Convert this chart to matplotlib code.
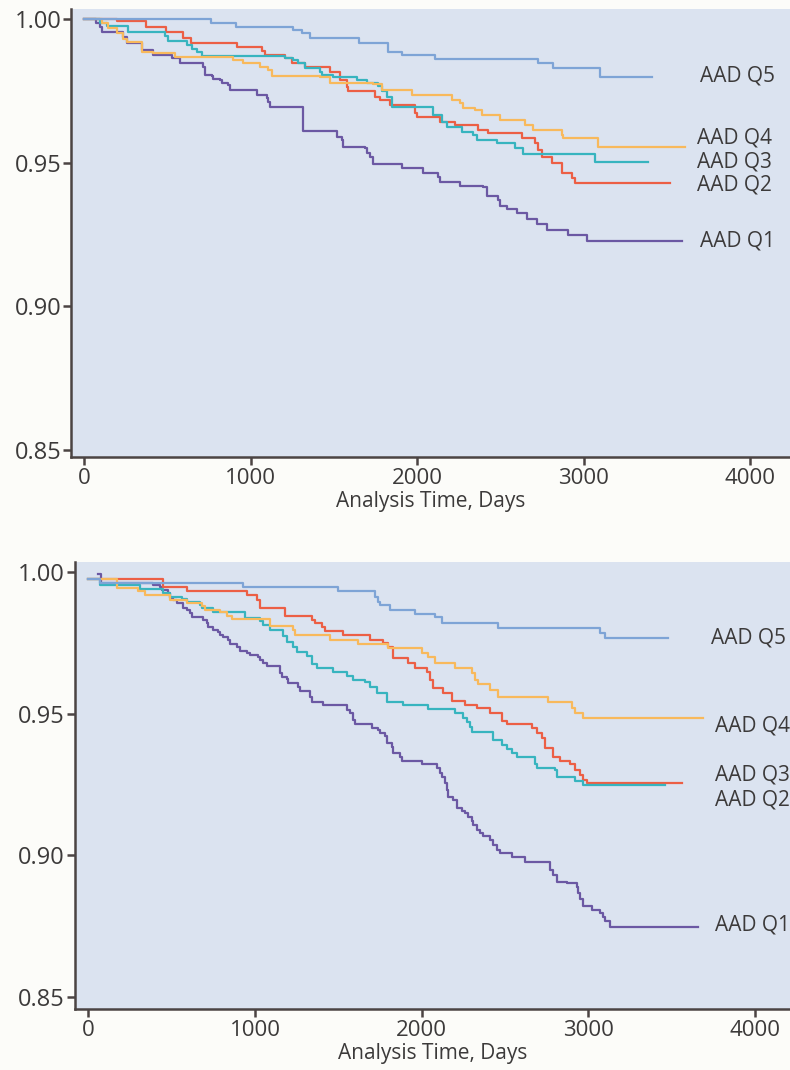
import matplotlib
matplotlib.use("Agg")
import matplotlib.pyplot as plt

plt.rcParams['font.family'] = ['Open Sans', 'DejaVu Sans']

# ---- top panel ----
top_q1_t = [0, 70, 96, 106, 236, 256, 347, 416, 527, 577, 717, 727, 767, 777, 817, 827, 867, 877, 1037, 1097,
            1107, 1117, 1317, 1518, 1548, 1557, 1688, 1698, 1718, 1738, 1908, 2038, 2128, 2138, 2258, 2398,
            2419, 2488, 2498, 2539, 2599, 2659, 2719, 2779, 2909, 3019, 3590]
top_q1_s = [1.0, 0.9987, 0.9973, 0.9956, 0.9938, 0.9915, 0.9892, 0.9875, 0.9863, 0.9848, 0.9834, 0.9805,
            0.9802, 0.9790, 0.9788, 0.9778, 0.9770, 0.9753, 0.9736, 0.9724, 0.9712, 0.9695, 0.9610, 0.9590,
            0.9579, 0.9554, 0.9550, 0.9533, 0.9521, 0.9494, 0.9480, 0.9465, 0.9451, 0.9434, 0.9419, 0.9414,
            0.9384, 0.9370, 0.9349, 0.9338, 0.9324, 0.9303, 0.9287, 0.9266, 0.9248, 0.9228, 0.9228]

top_q2_t = [0, 196, 371, 491, 593, 641, 917, 1067, 1087, 1207, 1247, 1327, 1477, 1538, 1578, 1587, 1748,
            1778, 1838, 1988, 1998, 2138, 2228, 2368, 2428, 2629, 2709, 2729, 2749, 2809, 2869, 2929, 2949, 3519]
top_q2_s = [1.0, 0.9994, 0.9973, 0.9956, 0.9933, 0.9918, 0.9904, 0.9890, 0.9875, 0.9863, 0.9846, 0.9834,
            0.9817, 0.9788, 0.9764, 0.9749, 0.9730, 0.9718, 0.9701, 0.9672, 0.9658, 0.9643, 0.9631, 0.9614,
            0.9602, 0.9585, 0.9567, 0.9544, 0.9521, 0.9498, 0.9465, 0.9446, 0.9428, 0.9428]

top_q3_t = [0, 96, 138, 264, 486, 504, 619, 649, 679, 709, 1207, 1255, 1285, 1327, 1417, 1429, 1495, 1640,
            1700, 1766, 1790, 1820, 1848, 2098, 2148, 2178, 2269, 2338, 2359, 2479, 2589, 2639, 3069, 3389]
top_q3_s = [1.0, 0.9985, 0.9976, 0.9954, 0.9941, 0.9923, 0.9910, 0.9895, 0.9886, 0.9871, 0.9863, 0.9857,
            0.9846, 0.9828, 0.9817, 0.9805, 0.9797, 0.9788, 0.9776, 0.9767, 0.9750, 0.9730, 0.9695, 0.9666,
            0.9643, 0.9625, 0.9608, 0.9596, 0.9579, 0.9567, 0.9550, 0.9530, 0.9503, 0.9503]

top_q4_t = [0, 106, 146, 196, 236, 256, 347, 416, 547, 897, 957, 1057, 1107, 1127, 1417, 1477, 1738, 1788,
            1968, 2208, 2258, 2278, 2348, 2389, 2498, 2649, 2699, 2869, 2879, 3089, 3609]
top_q4_s = [1.0, 0.9985, 0.9968, 0.9950, 0.9929, 0.9921, 0.9886, 0.9883, 0.9869, 0.9857, 0.9846, 0.9834,
            0.9823, 0.9802, 0.9797, 0.9776, 0.9774, 0.9753, 0.9736, 0.9718, 0.9707, 0.9689, 0.9683, 0.9666,
            0.9649, 0.9631, 0.9614, 0.9596, 0.9585, 0.9556, 0.9556]

top_q5_t = [0, 761, 911, 1257, 1307, 1357, 1653, 1828, 1908, 2108, 2728, 2818, 3099, 3409]
top_q5_s = [1.0, 0.9985, 0.9973, 0.9962, 0.9950, 0.9933, 0.9915, 0.9886, 0.9875, 0.9860, 0.9846, 0.9831,
            0.9799, 0.9799]

# ---- bottom panel ----
bot_q1_t = [60, 75, 390, 430, 440, 480, 490, 510, 530, 570, 590, 610, 620, 690, 710, 720, 750, 780, 790, 810,
            840, 850, 890, 910, 950, 970, 1020, 1030, 1050, 1070, 1150, 1160, 1190, 1200, 1260, 1270, 1330,
            1340, 1410, 1550, 1570, 1590, 1600, 1700, 1740, 1750, 1780, 1790, 1820, 1830, 1870, 1880, 2000,
            2090, 2110, 2120, 2140, 2150, 2160, 2190, 2210, 2240, 2260, 2280, 2300, 2310, 2330, 2350, 2370,
            2410, 2430, 2450, 2470, 2540, 2620, 2770, 2790, 2810, 2870, 2930, 2940, 2950, 2970, 3020, 3070,
            3090, 3100, 3130, 3660]
bot_q1_s = [0.9993, 0.9962, 0.9955, 0.9949, 0.9938, 0.9928, 0.9908, 0.9902, 0.9891, 0.9873, 0.9867, 0.9855,
            0.9841, 0.9832, 0.9820, 0.9806, 0.9796, 0.9790, 0.9779, 0.9771, 0.9761, 0.9747, 0.9737, 0.9723,
            0.9716, 0.9708, 0.9702, 0.9690, 0.9681, 0.9669, 0.9643, 0.9631, 0.9622, 0.9608, 0.9596, 0.9579,
            0.9561, 0.9543, 0.9532, 0.9514, 0.9502, 0.9479, 0.9463, 0.9449, 0.9443, 0.9432, 0.9420, 0.9396,
            0.9384, 0.9361, 0.9349, 0.9335, 0.9323, 0.9308, 0.9290, 0.9276, 0.9255, 0.9232, 0.9208, 0.9196,
            0.9167, 0.9158, 0.9149, 0.9137, 0.9120, 0.9108, 0.9090, 0.9079, 0.9067, 0.9055, 0.9038, 0.9020,
            0.9008, 0.8996, 0.8978, 0.8949, 0.8932, 0.8908, 0.8904, 0.8890, 0.8867, 0.8846, 0.8820, 0.8808,
            0.8796, 0.8784, 0.8767, 0.8747, 0.8747]

bot_q2_t = [0, 450, 590, 950, 1010, 1030, 1180, 1340, 1360, 1400, 1420, 1530, 1690, 1770, 1800, 1830, 1920,
            1960, 2030, 2050, 2070, 2130, 2180, 2260, 2330, 2410, 2480, 2510, 2660, 2690, 2720, 2740, 2790,
            2830, 2890, 2920, 2950, 2970, 2990, 3560]
bot_q2_s = [0.9975, 0.9949, 0.9932, 0.9920, 0.9902, 0.9873, 0.9846, 0.9832, 0.9822, 0.9806, 0.9794, 0.9779,
            0.9761, 0.9749, 0.9737, 0.9696, 0.9679, 0.9661, 0.9649, 0.9620, 0.9591, 0.9575, 0.9547, 0.9532,
            0.9520, 0.9504, 0.9473, 0.9464, 0.9449, 0.9432, 0.9414, 0.9379, 0.9349, 0.9334, 0.9323, 0.9302,
            0.9284, 0.9267, 0.9257, 0.9257]

bot_q3_t = [0, 70, 310, 450, 490, 560, 590, 670, 680, 750, 940, 1030, 1050, 1090, 1170, 1190, 1230, 1250,
            1310, 1340, 1370, 1470, 1550, 1590, 1660, 1690, 1730, 1790, 1890, 2040, 2200, 2250, 2270, 2290,
            2300, 2430, 2480, 2510, 2540, 2570, 2680, 2690, 2800, 2810, 2920, 2970, 3460]
bot_q3_s = [0.9975, 0.9955, 0.9940, 0.9926, 0.9914, 0.9905, 0.9896, 0.9885, 0.9873, 0.9861, 0.9838, 0.9829,
            0.9814, 0.9796, 0.9773, 0.9755, 0.9737, 0.9720, 0.9705, 0.9676, 0.9661, 0.9646, 0.9634, 0.9620,
            0.9614, 0.9596, 0.9574, 0.9543, 0.9532, 0.9517, 0.9504, 0.9487, 0.9472, 0.9454, 0.9437, 0.9406,
            0.9390, 0.9375, 0.9361, 0.9349, 0.9323, 0.9308, 0.9302, 0.9276, 0.9264, 0.9249, 0.9249]

bot_q4_t = [0, 170, 300, 340, 490, 590, 680, 700, 790, 830, 860, 1090, 1230, 1240, 1450, 1620, 1800, 2000,
            2040, 2080, 2200, 2300, 2320, 2340, 2410, 2460, 2760, 2900, 2920, 2970, 3690]
bot_q4_s = [0.9975, 0.9944, 0.9935, 0.9920, 0.9902, 0.9891, 0.9879, 0.9867, 0.9861, 0.9846, 0.9834, 0.9810,
            0.9796, 0.9779, 0.9761, 0.9747, 0.9732, 0.9714, 0.9702, 0.9679, 0.9661, 0.9643, 0.9620, 0.9606,
            0.9585, 0.9561, 0.9543, 0.9520, 0.9502, 0.9487, 0.9487]

bot_q5_t = [0, 70, 930, 1500, 1720, 1740, 1750, 1810, 1960, 2080, 2120, 2460, 3070, 3100, 3480]
bot_q5_s = [0.9975, 0.9963, 0.9949, 0.9932, 0.9914, 0.9896, 0.9885, 0.9867, 0.9853, 0.9841, 0.9820, 0.9802,
            0.9785, 0.9769, 0.9769]

names = ["AAD Q1", "AAD Q2", "AAD Q3", "AAD Q4", "AAD Q5"]
colors = ["#6b58a3", "#ec5f45", "#37b4bf", "#f8b95c", "#7ea4d6"]

top_curves = [(top_q1_t, top_q1_s), (top_q2_t, top_q2_s), (top_q3_t, top_q3_s),
              (top_q4_t, top_q4_s), (top_q5_t, top_q5_s)]
bot_curves = [(bot_q1_t, bot_q1_s), (bot_q2_t, bot_q2_s), (bot_q3_t, bot_q3_s),
              (bot_q4_t, bot_q4_s), (bot_q5_t, bot_q5_s)]

# where the curve names sit (x, y in data units)
top_label_pos = [(3700, 0.9227), (3680, 0.9422), (3680, 0.9502), (3680, 0.9586), (3700, 0.9802)]
bot_label_pos = [(3760, 0.8755), (3760, 0.9197), (3760, 0.9285), (3760, 0.9458), (3736, 0.9769)]

ink = "#4b4443"
txt = "#3c3a3a"


def style_axes(ax, xlim, ylim):
    ax.set_facecolor("#dbe3f0")
    ax.set_xlim(*xlim)
    ax.set_ylim(*ylim)
    ax.spines['top'].set_visible(False)
    ax.spines['right'].set_visible(False)
    for side in ['left', 'bottom']:
        ax.spines[side].set_color(ink)
        ax.spines[side].set_linewidth(1.8)
    ax.set_xticks([0, 1000, 2000, 3000, 4000])
    ax.set_yticks([0.85, 0.90, 0.95, 1.00])
    ax.set_yticklabels(["0.85", "0.90", "0.95", "1.00"])
    ax.tick_params(axis='both', colors=ink, labelcolor=txt, length=6, width=1.8,
                   labelsize=16, direction='out')
    ax.tick_params(axis='y', pad=1, labelsize=17)
    ax.tick_params(axis='x', pad=2)
    ax.set_xlabel("Analysis Time, Days", fontsize=15, color=txt, labelpad=1)


def draw_panel(ax, curves, label_pos):
    for i, (t, s) in enumerate(curves):
        ax.step(t, s, where='post', color=colors[i], linewidth=1.6, zorder=2 + i)
    for i, (lx, ly) in enumerate(label_pos):
        ax.text(lx, ly, names[i], fontsize=15, color=txt, va='center', ha='left')


fig = plt.figure(figsize=(7.9, 10.7), dpi=100, facecolor="#fcfcf9")

ax1 = fig.add_axes([71 / 790, 1 - 457.3 / 1070, 1 - 71 / 790, (457.3 - 9.3) / 1070])
style_axes(ax1, (-78, 4240), (0.8475, 1.0034))
draw_panel(ax1, top_curves, top_label_pos)

ax2 = fig.add_axes([74.5 / 790, 1 - 1009.3 / 1070, 1 - 74.5 / 790, (1009.3 - 561.7) / 1070])
style_axes(ax2, (-83, 4210), (0.8457, 1.0037))
draw_panel(ax2, bot_curves, bot_label_pos)

fig.savefig("out.png", dpi=100, facecolor=fig.get_facecolor())
